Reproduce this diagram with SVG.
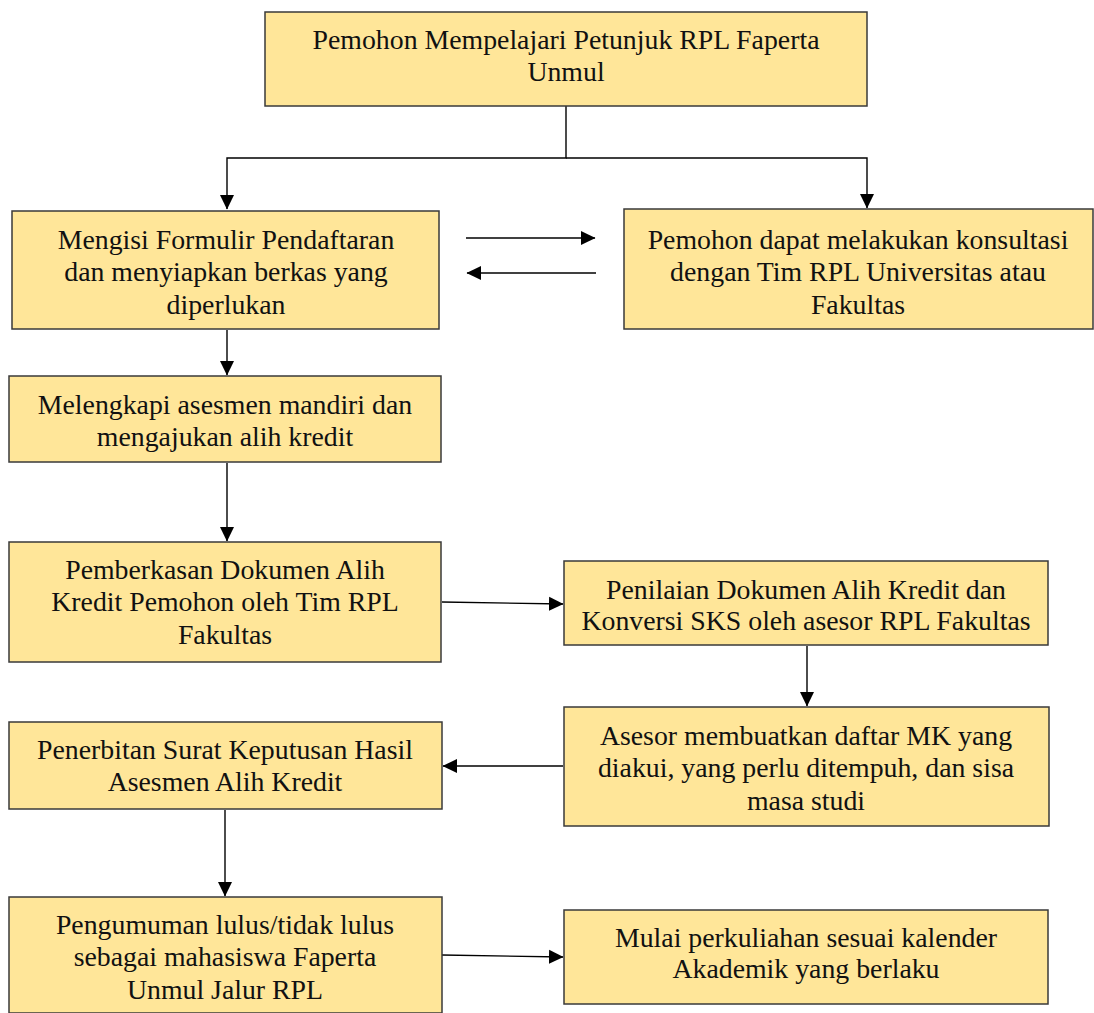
<svg xmlns="http://www.w3.org/2000/svg" width="1094" height="1013" viewBox="0 0 1094 1013">
<defs>
<style>
.box{fill:#FFE699;stroke:#3a3a3a;stroke-width:1.5}
.t{font-family:"Liberation Serif","Times New Roman",serif;font-size:27.8px;fill:#111;text-anchor:middle}
.c{fill:none;stroke:#000;stroke-width:1.4}
</style>
<marker id="ah" markerUnits="userSpaceOnUse" markerWidth="15" markerHeight="15" viewBox="0 0 15 15" refX="14" refY="7.5" orient="auto">
<path d="M0,0.5 L14.5,7.5 L0,14.5 Z" fill="#000"/>
</marker>
</defs>
<rect width="1094" height="1013" fill="#fff"/>
<g id="connectors">
<path class="c" d="M566,106 V158 H227 V209" marker-end="url(#ah)"/>
<path class="c" d="M566,158 H867 V208" marker-end="url(#ah)"/>
<path class="c" d="M466,238 H595" marker-end="url(#ah)"/>
<path class="c" d="M596,273 H467" marker-end="url(#ah)"/>
<path class="c" d="M227,330 V375" marker-end="url(#ah)"/>
<path class="c" d="M227,463 V541" marker-end="url(#ah)"/>
<path class="c" d="M442,602 L563,604" marker-end="url(#ah)"/>
<path class="c" d="M807,646 V706" marker-end="url(#ah)"/>
<path class="c" d="M563,766 H443" marker-end="url(#ah)"/>
<path class="c" d="M225,810 V896" marker-end="url(#ah)"/>
<path class="c" d="M442,955 L563,957" marker-end="url(#ah)"/>
</g>
<g id="n1"><rect class="box" x="265" y="12" width="602" height="94"/>
<text class="t" x="566" y="49">Pemohon Mempelajari Petunjuk RPL Faperta</text>
<text class="t" x="566" y="81">Unmul</text></g>
<g id="n2"><rect class="box" x="12" y="211" width="427" height="118"/>
<text class="t" x="226" y="249">Mengisi Formulir Pendaftaran</text>
<text class="t" x="226" y="281">dan menyiapkan berkas yang</text>
<text class="t" x="226" y="314">diperlukan</text></g>
<g id="n3"><rect class="box" x="624" y="209" width="469" height="120"/>
<text class="t" x="858" y="249">Pemohon dapat melakukan konsultasi</text>
<text class="t" x="858" y="281">dengan Tim RPL Universitas atau</text>
<text class="t" x="858" y="314">Fakultas</text></g>
<g id="n4"><rect class="box" x="9" y="376" width="432" height="86"/>
<text class="t" x="225" y="414">Melengkapi asesmen mandiri dan</text>
<text class="t" x="225" y="446">mengajukan alih kredit</text></g>
<g id="n5"><rect class="box" x="9" y="542" width="432" height="120"/>
<text class="t" x="225" y="579">Pemberkasan Dokumen Alih</text>
<text class="t" x="225" y="611">Kredit Pemohon oleh Tim RPL</text>
<text class="t" x="225" y="644">Fakultas</text></g>
<g id="n6"><rect class="box" x="564" y="561" width="484" height="84"/>
<text class="t" x="806" y="599">Penilaian Dokumen Alih Kredit dan</text>
<text class="t" x="806" y="630">Konversi SKS oleh asesor RPL Fakultas</text></g>
<g id="n7"><rect class="box" x="564" y="707" width="485" height="119"/>
<text class="t" x="806" y="745">Asesor membuatkan daftar MK yang</text>
<text class="t" x="806" y="777">diakui, yang perlu ditempuh, dan sisa</text>
<text class="t" x="806" y="810">masa studi</text></g>
<g id="n8"><rect class="box" x="9" y="722" width="433" height="87"/>
<text class="t" x="225" y="759">Penerbitan Surat Keputusan Hasil</text>
<text class="t" x="225" y="791">Asesmen Alih Kredit</text></g>
<g id="n9"><rect class="box" x="9" y="897" width="433" height="116"/>
<text class="t" x="225" y="934">Pengumuman lulus/tidak lulus</text>
<text class="t" x="225" y="966">sebagai mahasiswa Faperta</text>
<text class="t" x="225" y="999">Unmul Jalur RPL</text></g>
<g id="n10"><rect class="box" x="564" y="910" width="484" height="94"/>
<text class="t" x="806" y="947">Mulai perkuliahan sesuai kalender</text>
<text class="t" x="806" y="978">Akademik yang berlaku</text></g>
</svg>
